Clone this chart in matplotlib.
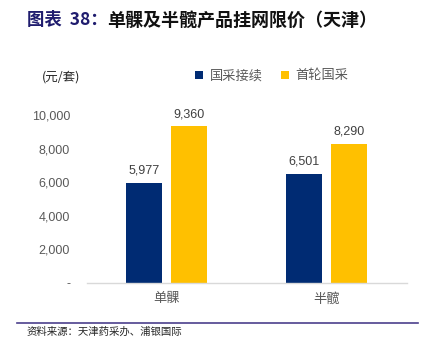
import matplotlib
matplotlib.use("Agg")
import matplotlib.pyplot as plt
import numpy as np

# data
categories = ["单髁", "半髋"]
series_names = ["国采接续", "首轮国采"]
renewal = [5977, 6501]
first_round = [9360, 8290]
y_ticks = [0, 2000, 4000, 6000, 8000, 10000]
y_ticklabels = ["-", "2,000", "4,000", "6,000", "8,000", "10,000"]

NAVY = "#002B73"
GOLD = "#FFC000"
GRAY = "#595959"
TITLE_BLUE = "#1F1C6E"
CJK = ["Noto Sans CJK SC", "DejaVu Sans"]
NUM = ["Liberation Sans", "DejaVu Sans"]

fig = plt.figure(figsize=(4.22, 3.41), dpi=100)
ax = fig.add_axes([0.2055, 0.171, 0.758, 0.5403])

x = np.arange(len(categories))
width = 0.225
offset = 0.142
b1 = ax.bar(x - offset, renewal, width, color=NAVY, label=series_names[0])
b2 = ax.bar(x + offset, first_round, width, color=GOLD, label=series_names[1])

for bars, vals in ((b1, renewal), (b2, first_round)):
    for bar, v in zip(bars, vals):
        ax.text(bar.get_x() + bar.get_width() / 2, v + 350, f"{v:,}",
                ha="center", va="bottom", fontsize=9, color="#404040", family=NUM)

ax.set_xlim(-0.5, 1.5)
ax.set_ylim(0, 11000)
ax.set_yticks(y_ticks)
ax.set_yticklabels(y_ticklabels, fontsize=9, color=GRAY, family=NUM)
ax.set_xticks(x)
ax.set_xticklabels(categories, fontsize=9.5, color=GRAY, family=CJK)
ax.tick_params(axis="y", length=0, pad=12)
ax.tick_params(axis="x", length=0, pad=7)
for side in ("top", "right", "left"):
    ax.spines[side].set_visible(False)
ax.spines["bottom"].set_color("#D9D9D9")
ax.spines["bottom"].set_linewidth(1.0)

leg = ax.legend(loc="center", bbox_to_anchor=(272 / 422, 1 - 76 / 341),
                bbox_transform=fig.transFigure, ncol=2, frameon=False,
                handlelength=0.6, handleheight=0.6, handletextpad=0.5,
                columnspacing=1.4, prop={"family": CJK, "size": 9.5})
for t in leg.get_texts():
    t.set_color(GRAY)

fig.text(61 / 422, 1 - 77 / 341, "(元/套)", ha="center", va="center",
         fontsize=9, color="#262626", family=CJK)

fig.text(27 / 422, 1 - 20 / 341, "图表  38：", ha="left", va="center",
         fontsize=12.5, fontweight="bold", color=TITLE_BLUE, family=CJK)
fig.text(107 / 422, 1 - 20 / 341, "单髁及半髋产品挂网限价（天津）", ha="left", va="center",
         fontsize=13, fontweight="bold", color="#111111", family=CJK)

fig.add_artist(plt.Line2D([17 / 422, 418 / 422], [1 - 323 / 341, 1 - 323 / 341],
                          transform=fig.transFigure, color="#4B3F8C", linewidth=1.2))
fig.text(27 / 422, 1 - 332 / 341, "资料来源：天津药采办、浦银国际", ha="left", va="center",
         fontsize=7.5, color="#262626", family=CJK)

fig.savefig("out.png", dpi=100)
